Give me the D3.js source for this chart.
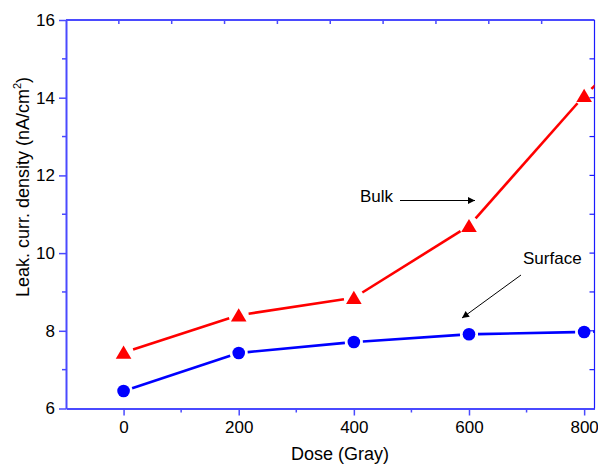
<!DOCTYPE html>
<html>
<head>
<meta charset="utf-8">
<script src="https://cdn.jsdelivr.net/npm/d3@7"></script>
<style>
  html, body { margin: 0; padding: 0; background: #fff; }
  svg { display: block; font-family: "Liberation Sans", Arial, sans-serif; }
</style>
</head>
<body>
<svg id="chart" width="598" height="464"></svg>
<script>
// Leakage current density versus dose
const doses = [0, 200, 400, 600, 800, 1000];
const bulkValues = [7.44, 8.40, 8.85, 10.70, 14.05, 16.85];
const surfaceValues = [6.45, 7.43, 7.71, 7.91, 7.97, 8.06];

const xTickValues = [0, 200, 400, 600, 800];
const xMinorTicks = [100, 300, 500, 700];
const yTickValues = [6, 8, 10, 12, 14, 16];
const yMinorTicks = [7, 9, 11, 13, 15];
const rightTicks = [7, 8, 9, 10, 11, 12, 13, 14, 15];

const svg = d3.select("#chart");
const plotLeft = 66, plotRight = 594.5, plotTop = 20, plotBottom = 408.5;

const x = d3.scaleLinear().domain([-100, 818]).range([plotLeft, plotRight]);
const y = d3.scaleLinear().domain([6, 16]).range([plotBottom, plotTop]);

const axisColor = "#4a4aff";

// clip for the data lines
svg.append("defs").append("clipPath").attr("id", "plotClip")
  .append("rect").attr("x", plotLeft).attr("y", plotTop)
  .attr("width", plotRight - plotLeft).attr("height", plotBottom - plotTop);

// bottom axis
const xAxis = d3.axisBottom(x).tickValues(xTickValues).tickSize(7).tickSizeOuter(0).tickPadding(5);
const gx = svg.append("g").attr("transform", `translate(0,${plotBottom})`).call(xAxis);
gx.selectAll(".tick text").attr("font-size", 17).attr("fill", "#000")
  .attr("font-family", "Liberation Sans, Arial, sans-serif");
gx.selectAll(".tick line").attr("stroke", axisColor).attr("stroke-width", 1.5);
gx.select(".domain").attr("stroke", axisColor).attr("stroke-width", 2);
gx.selectAll(".minor").data(xMinorTicks).enter().append("line")
  .attr("x1", d => x(d)).attr("x2", d => x(d)).attr("y1", 0).attr("y2", 4)
  .attr("stroke", axisColor).attr("stroke-width", 1.5);

// left axis
const yAxis = d3.axisLeft(y).tickValues(yTickValues).tickSize(7).tickSizeOuter(0).tickPadding(4);
const gy = svg.append("g").attr("transform", `translate(${plotLeft},0)`).call(yAxis);
gy.selectAll(".tick text").attr("font-size", 17).attr("fill", "#000")
  .attr("font-family", "Liberation Sans, Arial, sans-serif");
gy.selectAll(".tick line").attr("stroke", axisColor).attr("stroke-width", 1.5);
gy.select(".domain").attr("stroke", axisColor).attr("stroke-width", 2);
gy.selectAll(".minor").data(yMinorTicks).enter().append("line")
  .attr("x1", -4).attr("x2", 0).attr("y1", d => y(d)).attr("y2", d => y(d))
  .attr("stroke", axisColor).attr("stroke-width", 1.5);

// top frame with evenly spaced inward ticks
svg.append("line").attr("x1", plotLeft).attr("x2", plotRight).attr("y1", plotTop).attr("y2", plotTop)
  .attr("stroke", axisColor).attr("stroke-width", 2);
const topTicks = d3.range(1, 10).map(i => plotLeft + i * (plotRight - plotLeft) / 10);
svg.selectAll(".topTick").data(topTicks).enter().append("line")
  .attr("x1", d => d).attr("x2", d => d).attr("y1", plotTop).attr("y2", plotTop + 4)
  .attr("stroke", axisColor).attr("stroke-width", 1.5);

// right frame with inward ticks
svg.append("line").attr("x1", plotRight).attr("x2", plotRight).attr("y1", plotTop).attr("y2", plotBottom)
  .attr("stroke", "#1a1aff").attr("stroke-width", 1.2);
svg.selectAll(".rightTick").data(rightTicks).enter().append("line")
  .attr("x1", plotRight - 5).attr("x2", plotRight).attr("y1", d => y(d)).attr("y2", d => y(d))
  .attr("stroke", "#1a1aff").attr("stroke-width", 1.2);

// axis titles
svg.append("text").attr("x", 340).attr("y", 460).attr("text-anchor", "middle")
  .attr("font-size", 18).text("Dose (Gray)");
const yt = svg.append("text").attr("transform", "translate(29,187) rotate(-90)")
  .attr("text-anchor", "middle").attr("font-size", 18);
yt.append("tspan").text("Leak. curr. density (nA/cm");
yt.append("tspan").attr("font-size", 11).attr("dy", -8).text("2");
yt.append("tspan").attr("dy", 8).text(")");

// series lines drawn as segments with small gaps around the markers
function drawSeries(values, color, gap) {
  const pts = doses.map((d, i) => [x(d), y(values[i])]);
  const segs = [];
  for (let i = 0; i < pts.length - 1; i++) {
    const [x1, y1] = pts[i], [x2, y2] = pts[i + 1];
    const len = Math.hypot(x2 - x1, y2 - y1);
    const ux = (x2 - x1) / len, uy = (y2 - y1) / len;
    segs.push([x1 + ux * gap, y1 + uy * gap, x2 - ux * gap, y2 - uy * gap]);
  }
  svg.append("g").attr("clip-path", "url(#plotClip)")
    .selectAll("line").data(segs).enter().append("line")
    .attr("x1", d => d[0]).attr("y1", d => d[1]).attr("x2", d => d[2]).attr("y2", d => d[3])
    .attr("stroke", color).attr("stroke-width", 2.6);
  return pts;
}

const bulkPts = drawSeries(bulkValues, "#ff0000", 10);
const surfPts = drawSeries(surfaceValues, "#0000ff", 9);

// markers (only those within the axis range)
const visible = (p) => p[0] <= plotRight;
svg.append("g").selectAll("path").data(bulkPts.filter(visible)).enter().append("path")
  .attr("transform", d => `translate(${d[0]},${d[1]})`)
  .attr("d", "M0,-7L7.8,6.2L-7.8,6.2Z").attr("fill", "#ff0000");
svg.append("g").selectAll("circle").data(surfPts.filter(visible)).enter().append("circle")
  .attr("cx", d => d[0]).attr("cy", d => d[1]).attr("r", 6.3).attr("fill", "#0000ff");

// annotations
svg.append("defs").append("marker").attr("id", "arrowHead")
  .attr("viewBox", "0 0 10 10").attr("refX", 10).attr("refY", 5)
  .attr("markerWidth", 9).attr("markerHeight", 7).attr("markerUnits", "userSpaceOnUse")
  .attr("orient", "auto")
  .append("path").attr("d", "M0,0L10,5L0,10Z").attr("fill", "#000");

svg.append("text").attr("x", 360).attr("y", 202).attr("font-size", 17).text("Bulk");
svg.append("line").attr("x1", 400).attr("y1", 200.5).attr("x2", 475).attr("y2", 200.5)
  .attr("stroke", "#000").attr("stroke-width", 1).attr("marker-end", "url(#arrowHead)");

svg.append("text").attr("x", 523).attr("y", 264).attr("font-size", 17).text("Surface");
svg.append("line").attr("x1", 521).attr("y1", 275).attr("x2", 462).attr("y2", 318)
  .attr("stroke", "#000").attr("stroke-width", 1).attr("marker-end", "url(#arrowHead)");
</script>
</body>
</html>
